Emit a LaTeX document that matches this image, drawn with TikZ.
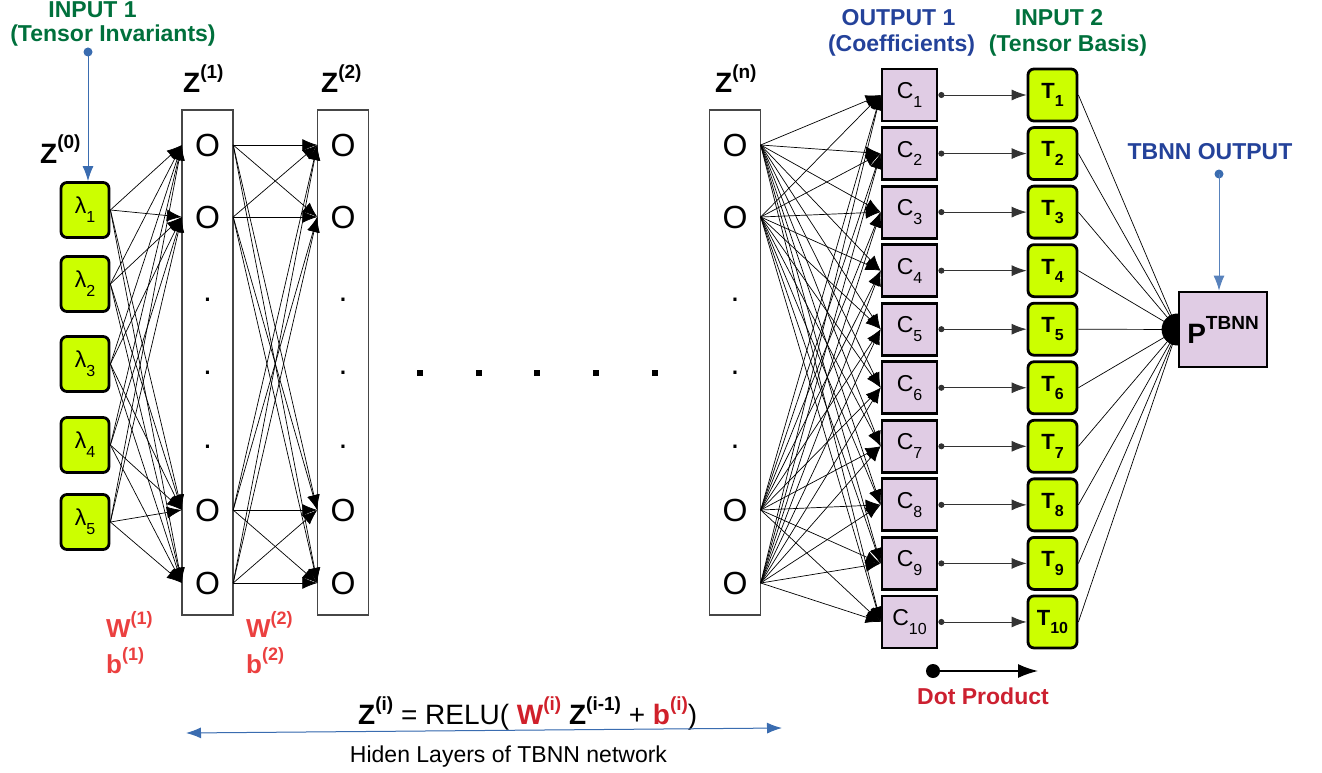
\documentclass[tikz,border=0pt]{standalone}
\usepackage{fontspec}
\setmainfont{Liberation Sans}
\usetikzlibrary{arrows.meta,backgrounds}
\definecolor{greenT}{RGB}{0,112,60}
\definecolor{blueT}{RGB}{36,66,154}
\definecolor{redW}{RGB}{235,64,64}
\definecolor{redF}{RGB}{208,32,42}
\definecolor{redD}{RGB}{204,32,48}
\definecolor{arrowblue}{RGB}{58,108,176}
\definecolor{limeg}{RGB}{204,255,0}
\definecolor{lav}{RGB}{224,204,228}
\definecolor{colgray}{RGB}{70,70,70}
\newcommand{\fs}[1]{\fontsize{#1}{#1}\selectfont}
\newcommand{\myup}[2]{\raisebox{0.5em}{\fontsize{#1}{#1}\selectfont #2}}
\newcommand{\mydn}[2]{\raisebox{-0.38em}{\fontsize{#1}{#1}\selectfont #2}}
\begin{document}
\begin{tikzpicture}[x=1pt,y=-1pt,
  lam/.style={draw,line width=2.8pt,rounded corners=6pt,fill=limeg,minimum width=48pt,minimum height=55pt,inner sep=0pt,font=\fs{23}},
  cbox/.style={draw,line width=2.8pt,fill=lav,minimum width=55pt,minimum height=52pt,inner sep=0pt,font=\fs{23}},
  tbox/.style={draw,line width=2.8pt,rounded corners=6pt,fill=limeg,minimum width=49pt,minimum height=52pt,inner sep=0pt,font=\fs{22}\bfseries},
  pbox/.style={draw,line width=2.8pt,fill=lav,minimum width=88pt,minimum height=75pt,inner sep=0pt,font=\fs{28}\bfseries},
  col/.style={draw=colgray,line width=1.2pt,minimum width=51pt,minimum height=505pt,inner sep=0pt},
  onode/.style={minimum width=51pt,inner sep=0pt,font=\fs{32}},
  conn/.style={-{Latex[length=15pt,width=12pt]},line width=0.7pt},
  dotp/.style={{Circle[length=6pt]}-{Latex[length=15pt,width=11pt]},line width=0.9pt,draw=black!80},
  bluearr/.style={-{Latex[length=15pt,width=11pt]},line width=1pt,draw=arrowblue,fill=arrowblue},
  lbl/.style={inner sep=0pt,anchor=base},
  lblw/.style={inner sep=0pt,anchor=base west}
]
\useasboundingbox (0,0) rectangle (1322,773);

% --- input lambdas
\foreach \i/\y in {1/210,2/284,3/364,4/445,5/522}
  \node[lam] (l\i) at (85,\y) {λ\mydn{16}{\i}};

% --- hidden layer columns
\node[col] (L1) at (207.5,362.5) {};
\node[col] (L2) at (343,362.5) {};
\node[col] (Ln) at (735,362.5) {};

\foreach \c/\x in {A/207.5,B/343,N/735}{
  \node[onode] (\c1) at (\x,145) {O};
  \node[onode] (\c2) at (\x,217) {O};
  \node[onode] (\c3) at (\x,510) {O};
  \node[onode] (\c4) at (\x,583) {O};
  \node[onode] (\c d1) at (\x,300) {.};
  \node[onode] (\c d2) at (\x,373) {.};
  \node[onode] (\c d3) at (\x,447) {.};
}

% --- ellipsis dots between layers
\foreach \x in {420,479,537,596,655}
  \fill (\x-3,370) rectangle (\x+3,376);

% --- coefficient and tensor basis boxes
\foreach \k in {1,...,10}{
  \pgfmathsetmacro{\yy}{95+58.55*(\k-1)}
  \node[cbox] (C\k) at (909.5,\yy) {C\mydn{16}{\k}};
  \node[tbox] (T\k) at (1052.5,\yy) {T\mydn{16}{\k}};
}

% --- output box
\node[pbox] (P) at (1223,329.5) {P\myup{19}{TBNN}};
\begin{scope}[on background layer]
  \fill (P.west) circle[radius=16pt];
\end{scope}

% --- connectors
\foreach \i in {1,...,5}
  \foreach \j in {1,...,4}
    \draw[conn] (l\i.east) -- (A\j.west);
\foreach \i in {1,...,4}
  \foreach \j in {1,...,4}
    \draw[conn] (A\i.east) -- (B\j.west);
\foreach \i in {1,...,4}
  \foreach \k in {1,...,10}
    \draw[conn] (N\i.east) -- (C\k.west);
\foreach \k in {1,...,10}{
  \draw[dotp] (C\k.east) -- (T\k.west);
  \draw[line width=0.7pt] (T\k.east) -- (P.west);
}

% --- input / output markers
\coordinate (in1) at (88,52);
\fill[arrowblue] (in1) circle[radius=4.5pt];
\draw[bluearr] (in1) -- (in1 |- l1.north);
\coordinate (outP) at (1219,174);
\fill[arrowblue] (outP) circle[radius=4.5pt];
\draw[bluearr,draw=arrowblue!85!white] (outP) -- (outP |- P.north);

% --- headings
\node[lbl,text=greenT,font=\fs{23}\bfseries] (h1a) at (92.5,18) {INPUT 1};
\node[lbl,text=greenT,font=\fs{23}\bfseries] (h1b) at (113,42) {(Tensor Invariants)};
\node[lbl,text=blueT,font=\fs{23}\bfseries] (h2a) at (898.5,26) {OUTPUT 1};
\node[lbl,text=blueT,font=\fs{23}\bfseries] (h2b) at (901.5,52) {(Coefficients)};
\node[lbl,text=greenT,font=\fs{23}\bfseries] (h3a) at (1059,26) {INPUT 2};
\node[lbl,text=greenT,font=\fs{23}\bfseries] (h3b) at (1068,52) {(Tensor Basis)};
\node[lbl,text=blueT,font=\fs{23}\bfseries] (h4) at (1210,159) {TBNN OUTPUT};

% --- layer labels
\node[lblw,font=\fs{28}\bfseries] (z0) at (40,163) {Z\myup{19}{(0)}};
\node[lblw,font=\fs{28}\bfseries] (z1) at (183,93) {Z\myup{19}{(1)}};
\node[lblw,font=\fs{28}\bfseries] (z2) at (321,93) {Z\myup{19}{(2)}};
\node[lblw,font=\fs{28}\bfseries] (zn) at (715,93) {Z\myup{19}{(n)}};

% --- weights
\node[lblw,text=redW,font=\fs{26}\bfseries] (w1) at (106,637) {W\myup{18}{(1)}};
\node[lblw,text=redW,font=\fs{26}\bfseries] (b1) at (106,673) {b\myup{18}{(1)}};
\node[lblw,text=redW,font=\fs{26}\bfseries] (w2) at (246,637) {W\myup{18}{(2)}};
\node[lblw,text=redW,font=\fs{26}\bfseries] (b2) at (246,673) {b\myup{18}{(2)}};

% --- legend
\coordinate (dpa) at (933,671);
\coordinate (dpb) at (1038,671);
\fill (dpa) circle[radius=7pt];
\draw[-{Latex[length=20pt,width=14pt]},line width=1.6pt] (dpa) -- (dpb);
\node[lbl,text=redD,font=\fs{23}\bfseries] (dp) at (983,704) {Dot Product};

% --- formula and hidden layer span
\node[lblw,font=\fs{28}] (eq) at (358,724)
  {\textbf{Z\myup{19}{(i)}} = RELU( \textcolor{redF}{\textbf{W\myup{19}{(i)}}} \textbf{Z\myup{19}{(i-1)}} + \textcolor{redF}{\textbf{b\myup{19}{(i)}}})};
\coordinate (hl) at (186,733);
\coordinate (hr) at (782,728);
\draw[{Latex[length=15pt,width=11pt]}-{Latex[length=15pt,width=11pt]},line width=1pt,draw=arrowblue,fill=arrowblue] (hl) -- (hr);
\node[lbl,font=\fs{23}] (hid) at (508.5,762) {Hiden Layers of TBNN network};
\end{tikzpicture}
\end{document}
